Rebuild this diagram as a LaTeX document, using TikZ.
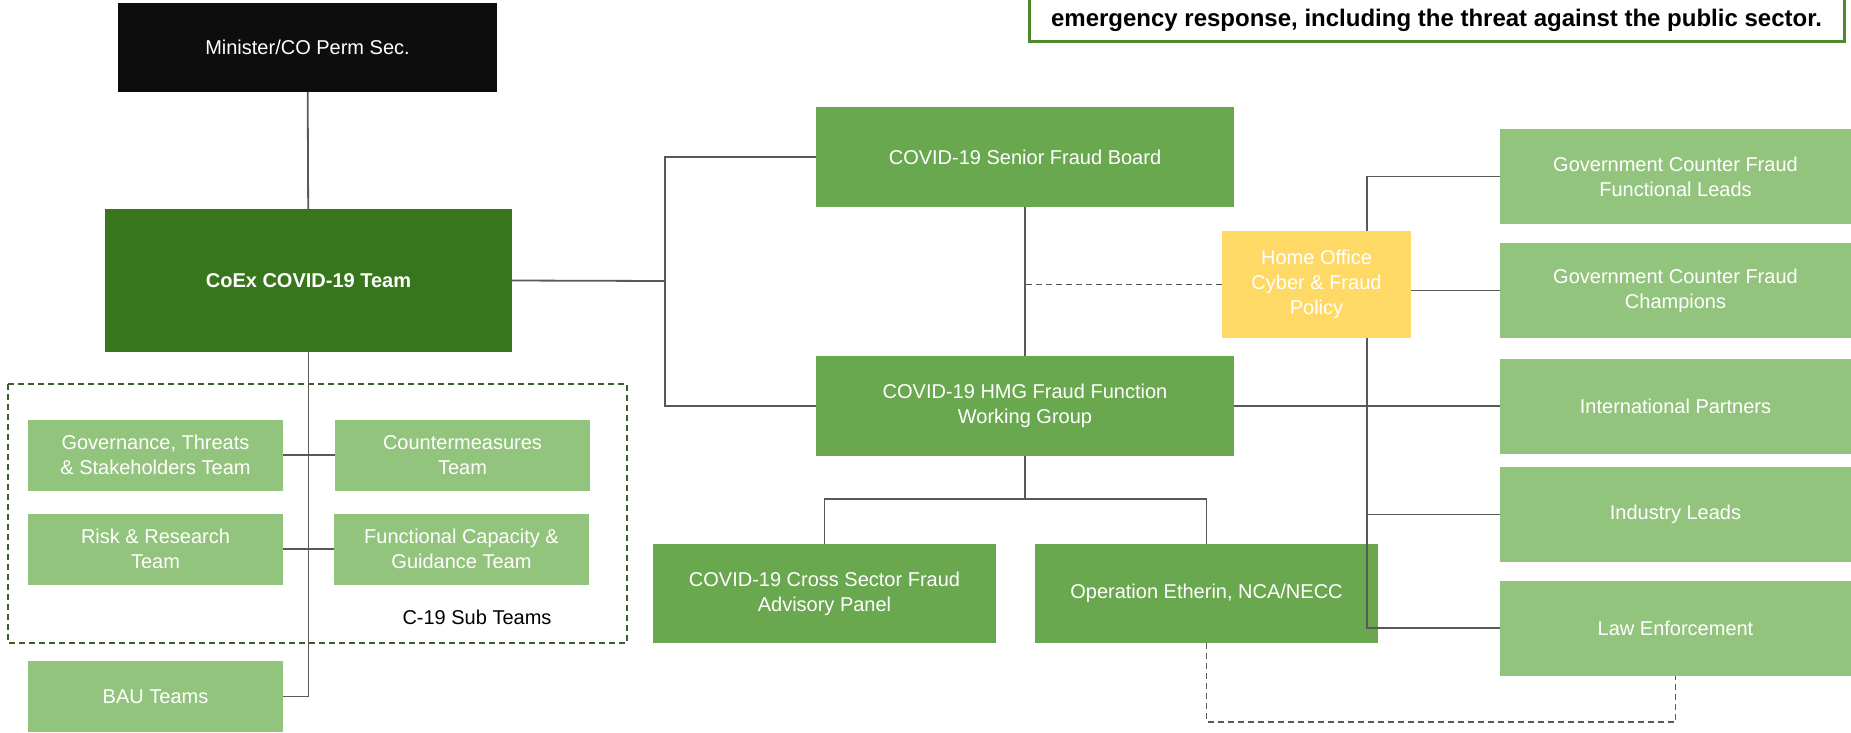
\documentclass[tikz,border=0pt]{standalone}
\usepackage{fontspec}
\setmainfont{Liberation Sans}
\usepackage{xcolor}
\usepackage{tikz}

\definecolor{coexgreen}{HTML}{38761D}
\definecolor{midgreen}{HTML}{6AA84F}
\definecolor{lightgreen}{HTML}{93C47D}
\definecolor{hoyellow}{HTML}{FFD966}
\definecolor{linegray}{HTML}{595959}
\definecolor{framegreen}{HTML}{4E8A2C}
\definecolor{subgreen}{HTML}{3B5E2B}

\begin{document}
\begin{tikzpicture}[x=1pt,y=-1pt,
    every node/.style={rectangle,inner sep=2pt,align=center,text=white,font=\fontsize{20}{25}\selectfont},
    teambox/.style={fill=lightgreen,minimum width=255pt,minimum height=71pt},
    sidebox/.style={fill=lightgreen,minimum width=351pt,minimum height=95pt},
    groupbox/.style={fill=midgreen,minimum width=418pt,minimum height=100pt},
    panelbox/.style={fill=midgreen,minimum width=343pt,minimum height=99pt},
    link/.style={draw=linegray,line width=1.8pt},
    dashlink/.style={draw=linegray,line width=1.8pt,dash pattern=on 6pt off 4pt}]
    \useasboundingbox (0,0) rectangle (1851,732);
    %
    \node[fill=black!95,minimum width=379pt,minimum height=89pt] (minister) at (307.5,47.5) {Minister/CO Perm Sec.};
    \node[fill=coexgreen,minimum width=407pt,minimum height=143pt,font=\fontsize{20}{25}\selectfont\bfseries] (coex) at (308.5,280.5) {CoEx COVID-19 Team};

    \node[teambox] (gov) at (155.5,455) {Governance, Threats\\\& Stakeholders Team};
    \node[teambox] (cm) at (462.5,455) {Countermeasures\\Team};
    \node[teambox] (risk) at (155.5,549) {Risk \& Research\\Team};
    \node[teambox] (func) at (461.5,549) {Functional Capacity \&\\Guidance Team};
    \node[teambox] (bau) at (155.5,696.5) {BAU Teams};
    \draw[subgreen,line width=1.5pt,dash pattern=on 6pt off 4pt] (8,384) rectangle (627,643);
    \node[text=black] (sublabel) at (477,617) {C-19 Sub Teams};

    \node[groupbox] (sfb) at (1025,157) {COVID-19 Senior Fraud Board};
    \node[groupbox] (wg) at (1025,406) {COVID-19 HMG Fraud Function\\Working Group};
    \node[panelbox] (cross) at (824.5,593.5) {COVID-19 Cross Sector Fraud\\Advisory Panel};
    \node[panelbox] (eth) at (1206.5,593.5) {Operation Etherin, NCA/NECC};
    \node[fill=hoyellow,minimum width=189pt,minimum height=107pt] (home) at (1316.5,284.5) {Home Office\\Cyber \& Fraud\\Policy};

    \node[sidebox] (leads) at (1675.5,176.5) {Government Counter Fraud\\Functional Leads};
    \node[sidebox] (champ) at (1675.5,290.5) {Government Counter Fraud\\Champions};
    \node[sidebox] (intl) at (1675.5,406) {International Partners};
    \node[sidebox] (ind) at (1675.5,514.5) {Industry Leads};
    \node[sidebox] (law) at (1675.5,628) {Law Enforcement};

    \draw[framegreen,line width=3pt] (1029,-60) rectangle (1844,41);
    \node[text=black,font=\fontsize{24}{28}\selectfont\bfseries] (threat) at (1436.5,20) {emergency response, including the threat against the public sector.};
    %
    \coordinate (cj) at (665,281);
    \coordinate (wj) at (1025,499);
    \coordinate (hs) at (1367,338);
    %
    \draw[link] (minister) edge (coex);
    \draw[link] (coex.south) |- (bau.east);
    \draw[link] (gov) edge (cm);
    \draw[link] (risk) edge (func);

    \draw[link] (coex.east) -- (cj);
    \draw[link] (sfb.west) -| (cj) |- (wg.west);
    \draw[link] (sfb) edge (wg);
    \draw[link] (wg) -- (wj);
    \draw[link] (cross.north) |- (wj) -| (eth.north);

    \draw[dashlink] (home.west) -- (home.west -| sfb.south);
    \draw[link] (leads.west) -| (hs |- home.north);
    \draw[link] (champ.west) -- (champ.west -| home.east);
    \draw[link] (wg.east) -- (intl.west);
    \draw[link] (hs) |- (law.west);
    \draw[link] (ind.west) -- (ind.west -| hs);
    \draw[dashlink] (eth.south) -- ++(0,79) -| (law.south);
    %
\end{tikzpicture}
\end{document}
